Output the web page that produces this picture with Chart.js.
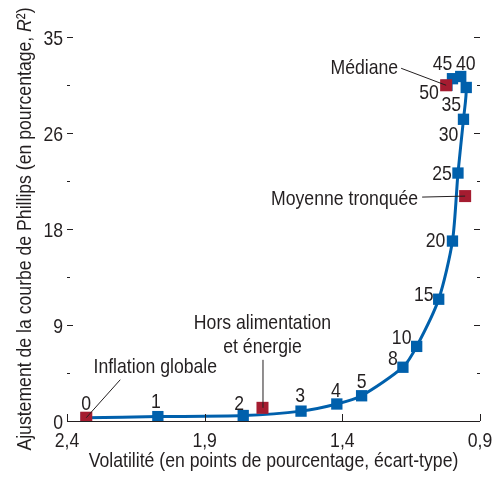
<!DOCTYPE html>
<html>
<head>
<meta charset="utf-8">
<script src="https://cdn.jsdelivr.net/npm/chart.js@4"></script>
<style>
  body { margin: 0; background: #fff; }
</style>
</head>
<body>
<canvas id="phillips-fit" width="499" height="478"></canvas>
<script>

/* trimmed-mean curve: % trimmed, volatility, Phillips curve fit */
const trimLabels = ['0', '1', '2', '3', '4', '5', '8', '10', '15', '20', '25', '30', '35', '40', '45', '50'];
const trimVolatility = [2.33, 2.07, 1.76, 1.55, 1.42, 1.33, 1.18, 1.13, 1.05, 1.00, 0.98, 0.96, 0.95, 0.97, 1.00, 1.02];
const trimFit = [0.3, 0.4, 0.5, 0.9, 1.55, 2.3, 4.9, 6.8, 11.1, 16.4, 22.6, 27.5, 30.4, 31.4, 31.2, 30.6];

/* the usual measures */
const measureNames = ['Inflation globale', 'Hors alimentation\net énergie', 'Moyenne tronquée', 'Médiane'];
const measureVolatility = [2.33, 1.69, 0.954, 1.023];
const measureFit = [0.3, 1.2, 20.5, 30.6];

const xTickValues = [0.9, 1.4, 1.9, 2.4];
const yTickValues = [0, 8.75, 17.5, 26.25, 35];

const xTitle = 'Volatilité (en points de pourcentage, écart-type)';
const yTitle = ['Ajustement de la courbe de Phillips (en pourcentage, ', 'R', '²)'];

// no condensed face installed -> squeeze Liberation Sans sideways
const FAMILY = '"Liberation Sans", Arial, sans-serif';
const SIZE = 21;
const SQUEEZE = 0.84;
const BLUE = '#0060AC';
const RED = '#A51C30';
const INK = '#231F20';

// where each little number sits around its point (dx, dy to text centre, px)
const labelOffsets = [
  [0, -15], [-2, -16], [-4, -13], [-1, -17], [-1, -14], [0, -15],
  [-10, -10], [-15, -10], [-15, -6], [-17, -2], [-16, -1], [-15, 14],
  [-15, 16], [5, -14], [-10, -16], [-18, 6]
];

const trimPoints = trimVolatility.map((v, i) => ({ x: v, y: trimFit[i] }));
const measurePoints = measureVolatility.map((v, i) => ({ x: v, y: measureFit[i] }));

function squeezeText(ctx, text, x, y, align, italic) {
  ctx.save();
  ctx.translate(x, y);
  ctx.scale(SQUEEZE, 1);
  ctx.font = (italic ? 'italic ' : '') + SIZE + 'px ' + FAMILY;
  ctx.textAlign = align;
  ctx.textBaseline = 'alphabetic';
  ctx.fillText(text, 0, 0);
  ctx.restore();
}

// centre of digits/caps sits ~7.5px above baseline
const CAPMID = 7.5;

const annotatePlugin = {
  id: 'annotate',
  afterDraw(chart) {
    const ctx = chart.ctx;
    const xs = chart.scales.x;
    const ys = chart.scales.y;
    const area = chart.chartArea;
    ctx.save();

    // axis line + ticks
    ctx.strokeStyle = INK;
    ctx.lineWidth = 1;
    ctx.beginPath();
    ctx.moveTo(area.left, area.bottom + 0.5);
    ctx.lineTo(area.right, area.bottom + 0.5);
    xTickValues.forEach(v => {
      const px = Math.round(xs.getPixelForValue(v)) + 0.5;
      ctx.moveTo(px, area.bottom);
      ctx.lineTo(px, area.bottom - 7);
    });
    ys.ticks.forEach((t, i) => {
      if (t.value === 0) return;
      const py = Math.round(ys.getPixelForValue(t.value)) + 0.5;
      const len = i % 2 === 0 ? 6 : 3;
      ctx.moveTo(area.left, py);
      ctx.lineTo(area.left + len, py);
      ctx.moveTo(area.right, py);
      ctx.lineTo(area.right - len, py);
    });
    ctx.stroke();

    ctx.fillStyle = INK;

    // tick labels
    xTickValues.forEach(v => {
      squeezeText(ctx, v.toFixed(1).replace('.', ','), xs.getPixelForValue(v), area.bottom + 26, 'center');
    });
    yTickValues.forEach(v => {
      squeezeText(ctx, String(Math.round(v)), area.left - 4, ys.getPixelForValue(v) + CAPMID, 'right');
    });

    // x title
    squeezeText(ctx, xTitle, (area.left + area.right) / 2, 467, 'center');

    // y title with italic R
    ctx.font = SIZE + 'px ' + FAMILY;
    const w0 = ctx.measureText(yTitle[0]).width * SQUEEZE;
    const w2 = ctx.measureText(yTitle[2]).width * SQUEEZE;
    ctx.font = 'italic ' + SIZE + 'px ' + FAMILY;
    const w1 = ctx.measureText(yTitle[1]).width * SQUEEZE;
    ctx.save();
    ctx.translate(31, (area.top + area.bottom) / 2);
    ctx.rotate(-Math.PI / 2);
    let cx = -(w0 + w1 + w2) / 2;
    squeezeText(ctx, yTitle[0], cx, 0, 'left');
    cx += w0;
    squeezeText(ctx, yTitle[1], cx, 0, 'left', true);
    cx += w1;
    squeezeText(ctx, yTitle[2], cx, 0, 'left');
    ctx.restore();

    // numbers next to the trimmed-mean points
    trimPoints.forEach((p, i) => {
      const px = xs.getPixelForValue(p.x);
      const py = ys.getPixelForValue(p.y);
      squeezeText(ctx, trimLabels[i], px + labelOffsets[i][0], py + labelOffsets[i][1] + CAPMID, 'center');
    });

    // measure callouts
    const pos = measurePoints.map(p => [xs.getPixelForValue(p.x), ys.getPixelForValue(p.y)]);
    ctx.lineWidth = 1;
    ctx.beginPath();
    ctx.moveTo(pos[0][0], pos[0][1]);
    ctx.lineTo(pos[0][0] + 34, pos[0][1] - 38);
    ctx.moveTo(pos[1][0] + 0.5, pos[1][1]);
    ctx.lineTo(pos[1][0] + 0.5, pos[1][1] - 48);
    ctx.moveTo(pos[2][0], pos[2][1]);
    ctx.lineTo(pos[2][0] - 43, pos[2][1] + 1);
    ctx.moveTo(pos[3][0], pos[3][1]);
    ctx.lineTo(pos[3][0] - 45, pos[3][1] - 17);
    ctx.stroke();

    squeezeText(ctx, measureNames[0], pos[0][0] + 69, pos[0][1] - 52 + CAPMID, 'center');
    const hors = measureNames[1].split('\n');
    squeezeText(ctx, hors[0], pos[1][0], pos[1][1] - 86 + CAPMID, 'center');
    squeezeText(ctx, hors[1], pos[1][0], pos[1][1] - 62 + CAPMID, 'center');
    squeezeText(ctx, measureNames[2], pos[2][0] - 47, pos[2][1] + 1 + CAPMID, 'right');
    squeezeText(ctx, measureNames[3], pos[3][0] - 48, pos[3][1] - 19 + CAPMID, 'right');

    ctx.restore();
  }
};

const ctx = document.getElementById('phillips-fit').getContext('2d');
const chart = new Chart(ctx, {
  type: 'scatter',
  data: {
    datasets: [{
      label: 'Mesures',
      data: measurePoints,
      order: 0,
      pointStyle: 'rect',
      pointRadius: 8.5,
      pointBorderWidth: 0,
      backgroundColor: RED,
      borderColor: RED
    }, {
      label: 'Moyennes tronquées',
      data: trimPoints,
      order: 1,
      showLine: true,
      tension: 0.25,
      borderWidth: 3,
      borderColor: BLUE,
      backgroundColor: BLUE,
      pointStyle: 'rect',
      pointRadius: 8,
      pointBorderWidth: 0
    }]
  },
  options: {
    responsive: false,
    animation: false,
    events: [],
    layout: { padding: { left: 30, right: 19, top: 37, bottom: 0 } },
    plugins: {
      legend: { display: false },
      tooltip: { enabled: false }
    },
    scales: {
      x: {
        type: 'linear',
        reverse: true,
        min: 0.9,
        max: 2.4,
        afterBuildTicks(scale) {
          scale.ticks = xTickValues.map(v => ({ value: v }));
        },
        afterFit(scale) { scale.height = 57; },
        grid: { display: false },
        border: { display: false },
        ticks: { display: false }
      },
      y: {
        type: 'linear',
        min: 0,
        max: 35,
        afterBuildTicks(scale) {
          const t = [];
          yTickValues.forEach((v, i) => {
            t.push({ value: v });
            if (i < yTickValues.length - 1) t.push({ value: (v + yTickValues[i + 1]) / 2 });
          });
          scale.ticks = t;
        },
        afterFit(scale) { scale.width = 37; },
        grid: { display: false },
        border: { display: false },
        ticks: { display: false, autoSkip: false }
      }
    }
  },
  plugins: [annotatePlugin]
});

</script>
</body>
</html>
